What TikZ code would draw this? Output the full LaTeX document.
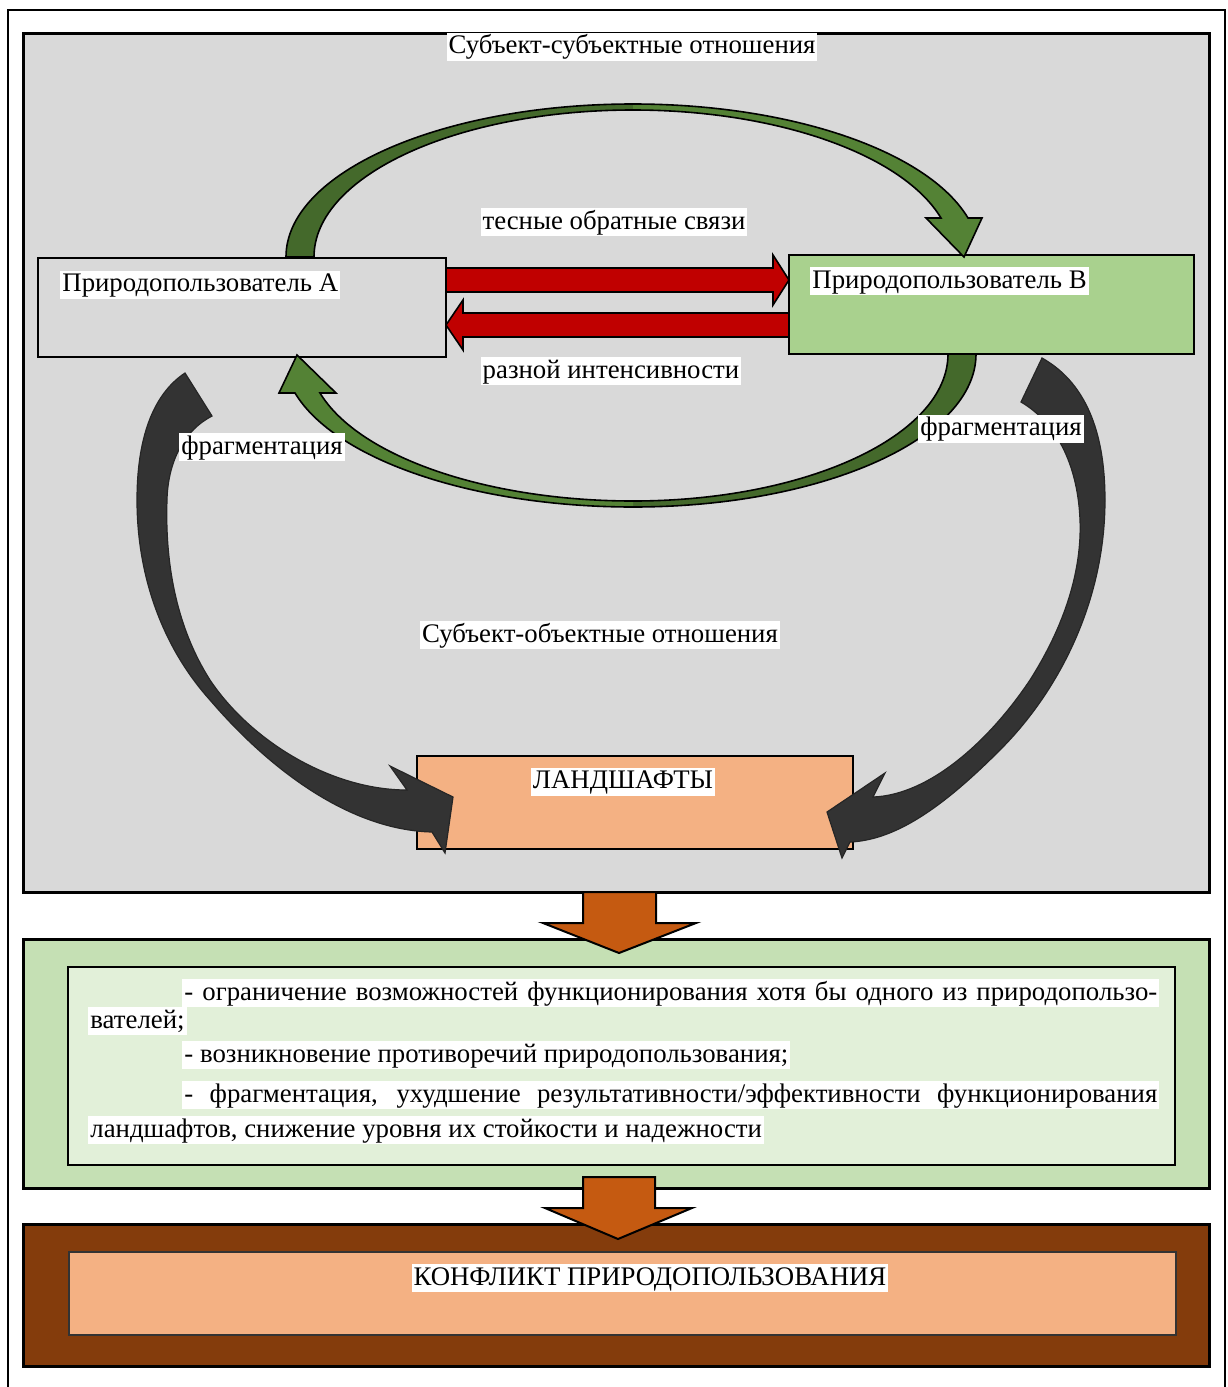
\documentclass[tikz,border=0pt]{standalone}
\usepackage{fontspec}
\setmainfont{Liberation Serif}
\definecolor{panelGrey}{HTML}{D9D9D9}
\definecolor{userGreen}{HTML}{A9D18E}
\definecolor{landOrange}{HTML}{F4B183}
\definecolor{linkRed}{HTML}{C00000}
\definecolor{arcGreen}{HTML}{548235}
\definecolor{arcGreenDark}{HTML}{44692B}
\definecolor{fragGrey}{HTML}{333333}
\definecolor{flowOrange}{HTML}{C55A11}
\definecolor{resultGreen}{HTML}{C5E0B4}
\definecolor{resultLight}{HTML}{E2F0D9}
\definecolor{conflictBrown}{HTML}{843C0C}
\tikzstyle{panel}=[draw=black, line width=1.5pt]
\tikzstyle{user}=[draw=black, line width=1pt, inner sep=0pt, minimum height=49.5pt]
\tikzstyle{caption}=[fill=white, inner xsep=1pt, inner ysep=0.5pt, text height=10pt, text depth=3pt, font=\fontsize{13.4pt}{16pt}\selectfont]
\tikzstyle{band}=[draw=black, line width=0.8pt]
\tikzstyle{frag}=[fill=fragGrey, draw=black!85, line width=0.6pt]
\tikzstyle{flow}=[fill=flowOrange, draw=black, line width=1pt]

\begin{document}
\begin{tikzpicture}[x=0.5pt, y=-0.5pt]
	\useasboundingbox (0,0) rectangle (1227,1387);
	\draw[line width=1pt] (8,1400) -- (8,10) -- (1225,10) -- (1225,1400);

	\draw[panel, fill=panelGrey] (23,33) rectangle (1209,892);
	\node[caption] (subsub) at (632,46.5) {Субъект-субъектные отношения};

	\node[user, fill=panelGrey, minimum width=204pt] (userA) at (242,307.5) {};
	\node[user, fill=userGreen, minimum width=202.5pt] (userB) at (991.5,304.5) {};
	\node[user, fill=landOrange, minimum width=218pt, minimum height=46.5pt, line width=0.8pt] (land) at (635,802.5) {};

	\draw[band, fill=linkRed] (446,268) -- (773,268) -- (773,255) -- (789,280) -- (773,305) -- (773,292) -- (446,292) -- cycle;
	\draw[band, fill=linkRed] (789,313) -- (463,313) -- (463,300) -- (446,325) -- (463,350) -- (463,337) -- (789,337) -- cycle;

	\fill[arcGreenDark] (286,257) .. controls (286,172.5) and (441.4,104) .. (633,104) -- (633,110) .. controls (456.8,110) and (314,175.8) .. (314,257) -- cycle;
	\fill[arcGreen] (633,104) .. controls (790.5,104) and (927.8,150.9) .. (968,218) -- (982,218) -- (964,257) -- (926,218) -- (941,218) .. controls (902.5,154.2) and (776.6,110) .. (633,110) -- cycle;
	\draw[band] (286,257) .. controls (286,172.5) and (441.4,104) .. (633,104) .. controls (790.5,104) and (927.8,150.9) .. (968,218) -- (982,218) -- (964,257) -- (926,218) -- (941,218) .. controls (902.5,154.2) and (776.6,110) .. (633,110) .. controls (456.8,110) and (314,175.8) .. (314,257) -- cycle;

	\fill[arcGreenDark] (976,354) .. controls (976,438.5) and (822.4,507) .. (633,507) -- (633,501) .. controls (807,501) and (948,435.2) .. (948,354) -- cycle;
	\fill[arcGreen] (633,507) .. controls (474.4,507) and (335.5,460.1) .. (295,393) -- (279,393) -- (297,355) -- (336,393) -- (320,393) .. controls (358.7,456.8) and (486.9,501) .. (633,501) -- cycle;
	\draw[band] (976,354) .. controls (976,438.5) and (822.4,507) .. (633,507) .. controls (474.4,507) and (335.5,460.1) .. (295,393) -- (279,393) -- (297,355) -- (336,393) -- (320,393) .. controls (358.7,456.8) and (486.9,501) .. (633,501) .. controls (807,501) and (948,435.2) .. (948,354) -- cycle;

	\draw[frag] (185,373) .. controls (152,395) and (137,440) .. (137,500) .. controls (137,580) and (165,650) .. (210,700) .. controls (270,770) and (350,830) .. (432,832) -- (445,853) -- (453,797) -- (390,766) -- (407,790) .. controls (330,790) and (250,740) .. (210,680) .. controls (175,625) and (165,560) .. (167,500) .. controls (168,460) and (185,430) .. (212,416) -- cycle;
	\draw[frag] (1042,358) .. controls (1090,385) and (1105,440) .. (1105,500) .. controls (1105,600) and (1060,690) .. (1000,750) .. controls (950,800) and (900,840) .. (850,842) -- (842,858) -- (827,812) -- (885,773) -- (873,797) .. controls (930,795) and (990,740) .. (1030,680) .. controls (1065,625) and (1082,570) .. (1080,520) .. controls (1078,470) and (1060,425) .. (1021,402) -- cycle;

	\node[caption, anchor=west] (nameA) at (60,284.5) {Природопользователь А};
	\node[caption, anchor=west] (nameB) at (810,281) {Природопользователь В};
	\node[caption] (close) at (614,222) {тесные обратные связи};
	\node[caption] (varied) at (611,371) {разной интенсивности};
	\node[caption] (fragA) at (262,447) {фрагментация};
	\node[caption] (fragB) at (1001,428.5) {фрагментация};
	\node[caption] (subobj) at (600,635) {Субъект-объектные отношения};
	\node[caption] (landname) at (623,781.5) {ЛАНДШАФТЫ};

	\draw[panel, fill=resultGreen] (23,939) rectangle (1209,1188);
	\draw[line width=0.6pt, fill=resultLight] (68,967) rectangle (1175,1165);
	\draw[flow] (583,892) -- (656,892) -- (656,923) -- (696,923) -- (619,953) -- (543,923) -- (583,923) -- cycle;

	\node[caption, anchor=west] (item1) at (182,993) {\makebox[486.5pt][s]{- ограничение возможностей функционирования хотя бы одного из природопользо-}};
	\node[caption, anchor=west] (item1b) at (88,1021) {вателей;};
	\node[caption, anchor=west] (item2) at (182,1055) {- возникновение противоречий природопользования;};
	\node[caption, anchor=west] (item3) at (182,1095) {\makebox[486.5pt][s]{- фрагментация, ухудшение результативности/эффективности функционирования}};
	\node[caption, anchor=west] (item3b) at (88,1130) {ландшафтов, снижение уровня их стойкости и надежности};

	\draw[panel, fill=conflictBrown] (23,1224) rectangle (1209,1366);
	\draw[line width=0.6pt, draw=black!80, fill=landOrange] (69,1252) rectangle (1176,1335);
	\draw[flow] (583,1177) -- (655,1177) -- (655,1208) -- (692,1208) -- (618,1239) -- (545,1208) -- (583,1208) -- cycle;
	\node[caption] (conflict) at (650,1278) {КОНФЛИКТ ПРИРОДОПОЛЬЗОВАНИЯ};
\end{tikzpicture}
\end{document}
